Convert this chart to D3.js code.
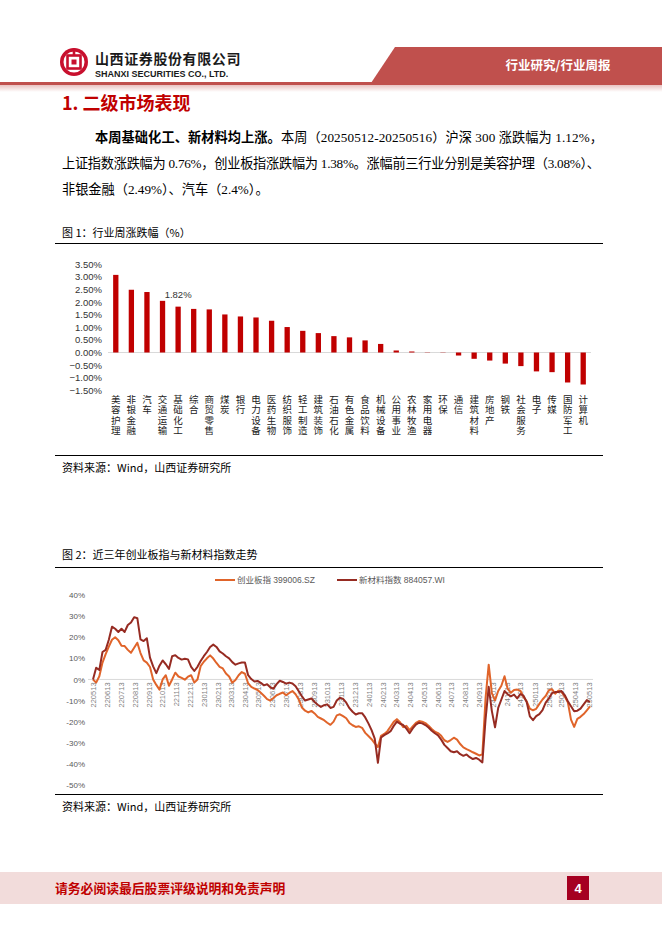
<!DOCTYPE html>
<html><head><meta charset="utf-8">
<script src="https://cdn.jsdelivr.net/npm/d3@7"></script>
<style>html,body{margin:0;padding:0;background:#fff;} svg{display:block}</style>
</head><body>
<svg id="page" width="662" height="936"></svg>
<script>
// ---------- data: figure 1 ----------
const industries = ["美容护理","非银金融","汽车","交通运输","基础化工","综合","商贸零售","煤炭","银行","电力设备","医药生物","纺织服饰","轻工制造","建筑装饰","石油石化","有色金属","食品饮料","机械设备","公用事业","农林牧渔","家用电器","环保","通信","建筑材料","房地产","钢铁","社会服务","电子","传媒","国防军工","计算机"];
const weeklyChange = [3.08,2.49,2.40,2.05,1.82,1.73,1.71,1.51,1.43,1.39,1.26,1.01,0.86,0.77,0.65,0.60,0.48,0.34,0.08,0.04,0.01,-0.01,-0.12,-0.25,-0.32,-0.44,-0.54,-0.75,-0.78,-1.19,-1.27];
const barTicks = [3.5,3,2.5,2,1.5,1,0.5,0,-0.5,-1,-1.5];
const labeledIndustry = "基础化工";

// ---------- data: figure 2 ----------
const seriesNames = ["创业板指 399006.SZ","新材料指数 884057.WI"];
const startDate = "2022-05-13", endDate = "2025-05-16";
const lineTickLabels = ["220513","220613","220713","220813","220913","221013","221113","221213","230113","230213","230313","230413","230513","230613","230713","230813","230913","231013","231113","231213","240113","240213","240313","240413","240513","240613","240713","240813","240913","241013","241113","241213","250113","250213","250313","250413","250513"];
const lineYTicks = [40,30,20,10,0,-10,-20,-30,-40,-50];
// weekly readings (Fridays from 2022-05-13), % change since start
const cybIndex = [0,-1.5,1.5,8,12,15.5,18.8,20,18.6,16,15.8,14,12.6,15,17.4,12.5,9,8,5.9,0,
-2.6,-4.8,0,2,-3,0,3.2,1.4,0.7,-0.1,1.3,2,-1.5,0,6.3,8.4,10,11.4,9.9,7.8,
6,5.2,2.8,1.4,-1.6,-0.3,2,3.5,2.7,-1.8,-3.5,-4.3,-5,-6.3,-7.7,-9.3,-10,-8.8,-7.5,-6.8,
-6.2,-7.5,-6.4,-5.5,-7,-9.5,-13.3,-14.8,-15.6,-14.9,-16.1,-17.7,-18.5,-19.3,-20.5,-21.5,-20,-17,-16.5,-17.4,
-18.4,-20.6,-21.7,-22.5,-22.2,-22.9,-25.3,-26.8,-28.3,-30.3,-32,-26.7,-25.8,-24.5,-22.3,-20.1,-18.8,-20.3,-22.6,-22,
-24,-22.2,-20.6,-19.7,-20,-20.7,-21.9,-23.5,-24.8,-25.4,-26.7,-28.8,-29.6,-28.7,-27.6,-28.5,-30.6,-32.2,-33,-33.7,
-34.5,-35.2,-36,-35.5,-9,7,-6.5,-10,-5.5,-3,1.5,-4.5,-6.3,-5,-4.8,-5.3,-8.3,-10.4,-13.8,-14.6,
-13.9,-11.6,-9.5,-7.8,-5.1,-4.6,-6.8,-5.3,-5.9,-8,-10.8,-19,-22.5,-18.7,-17.7,-16.4,-14.6,-12.8];
const newMaterialIndex = [0,5.5,4.5,13,14,18.8,25,24,22.5,24,22.5,25.8,27,29.5,29,19,18.2,19.5,10.3,6.2,
3,6.5,9,7.2,5,11,11.5,10.2,9.4,9.8,9.5,6,4,6,8.7,11,13,15.4,16.5,15.4,
13.3,12.3,11,10,8.2,7,7.6,8,8,2,0.2,-1,-0.7,-1.6,-2.8,-2.3,-3.7,-4.4,-2.2,-0.6,
-1.2,-2,-1.5,-1.9,-3.2,-5.6,-8,-10,-9.5,-9,-10.7,-12,-13,-12.2,-11.8,-13.5,-13,-10,-8.7,-9.2,
-11,-13.6,-15.3,-16.6,-16,-16,-18,-20.8,-24,-28,-39.5,-27.5,-26.4,-25.6,-24.5,-22,-20,-21,-21.6,-23.3,
-25.5,-23.2,-21.4,-20.5,-20.8,-21.6,-22.8,-24.3,-25.5,-26.5,-28.5,-31,-32.5,-34,-34.5,-34,-35.4,-36.2,-35.5,-36.8,
-37.7,-37.2,-38,-39.3,-19,-3.5,-15,-22.7,-13.5,-9.5,-5.5,-7,-8,-7.2,-9,-6.9,-7.7,-10.7,-17.5,-19.3,
-17.4,-16.4,-14.5,-11,-9,-6.5,-6,-6,-5.5,-7.4,-10.3,-12.7,-15.1,-14.8,-13.8,-11.8,-9.8,-10.7];

// ---------- page ----------
const svg = d3.select("#page");
const CJK = "'Noto Sans CJK SC', sans-serif";
const SERIF = "'Liberation Serif', 'Noto Sans CJK SC', serif";
const SANS = "'Liberation Sans', 'Noto Sans CJK SC', sans-serif";
svg.append("rect").attr("width",662).attr("height",936).attr("fill","#fff");

// header
const defs = svg.append("defs");
const grad = defs.append("linearGradient").attr("id","shade").attr("x1",0).attr("y1",0).attr("x2",0).attr("y2",1);
grad.append("stop").attr("offset","0%").attr("stop-color","#e9c3c2");
grad.append("stop").attr("offset","100%").attr("stop-color","#ffffff");
svg.append("polygon").attr("points","395,47 662,47 662,83 371,83").attr("fill","#c0504d");
svg.append("rect").attr("x",0).attr("y",82).attr("width",662).attr("height",3).attr("fill","#c0504d");
svg.append("rect").attr("x",0).attr("y",85).attr("width",662).attr("height",7).attr("fill","url(#shade)");
svg.append("text").attr("x",558).attr("y",70).attr("text-anchor","middle").attr("fill","#fff")
  .attr("font-family",CJK).attr("font-weight","bold").attr("font-size",12.5).text("行业研究/行业周报");
const logo = svg.append("g").attr("transform","translate(74,62)");
logo.append("circle").attr("r",14).attr("fill","#c8102e");
logo.append("circle").attr("r",10.5).attr("fill","#fff");
logo.append("rect").attr("x",-6.5).attr("y",-6.5).attr("width",13).attr("height",13).attr("fill","none").attr("stroke","#c8102e").attr("stroke-width",2.6);
logo.append("rect").attr("x",-2.5).attr("y",-2.5).attr("width",5).attr("height",5).attr("fill","#c8102e");
logo.append("rect").attr("x",-1.3).attr("y",-14).attr("width",2.6).attr("height",7).attr("fill","#c8102e");
svg.append("text").attr("x",95).attr("y",64).attr("font-family",CJK).attr("font-weight","bold")
  .attr("font-size",14).attr("letter-spacing",0.6).attr("fill","#1a1a1a").text("山西证券股份有限公司");
svg.append("text").attr("x",95).attr("y",77).attr("font-family","'Liberation Sans', Arial, sans-serif").attr("font-weight","bold")
  .attr("font-size",9).attr("fill","#1a1a1a").text("SHANXI SECURITIES CO., LTD.");

// section title
svg.append("text").attr("x",62).attr("y",110).attr("font-family",CJK).attr("font-weight","bold")
  .attr("font-size",18).attr("fill","#c00000").text("1. 二级市场表现");

// paragraph
const p1 = svg.append("text").attr("x",95).attr("y",142).attr("font-family",SERIF).attr("font-size",13.2)
  .attr("fill","#000").attr("textLength",508).attr("lengthAdjust","spacing");
p1.append("tspan").attr("font-weight","bold").attr("font-family",CJK).text("本周基础化工、新材料均上涨。");
p1.append("tspan").text("本周（20250512-20250516）沪深 300 涨跌幅为 1.12%，");
svg.append("text").attr("x",62).attr("y",168).attr("font-family",SERIF).attr("font-size",13.2)
  .attr("fill","#000").attr("textLength",538).attr("lengthAdjust","spacing")
  .text("上证指数涨跌幅为 0.76%，创业板指涨跌幅为 1.38%。涨幅前三行业分别是美容护理（3.08%）、");
svg.append("text").attr("x",62).attr("y",194).attr("font-family",SERIF).attr("font-size",13.2)
  .attr("fill","#000").text("非银金融（2.49%）、汽车（2.4%）。");

// captions & frames
function caption(y, t){ svg.append("text").attr("x",62).attr("y",y).attr("font-family",CJK).attr("font-size",11).attr("fill","#000").text(t); }
function rule(y){ svg.append("line").attr("x1",55).attr("x2",603).attr("y1",y).attr("y2",y).attr("stroke","#000").attr("stroke-width",1); }
caption(237,"图 1：行业周涨跌幅（%）"); rule(243.5); rule(455.5); caption(472,"资料来源：Wind，山西证券研究所");
caption(559,"图 2：近三年创业板指与新材料指数走势"); rule(567.5); rule(794.5); caption(811,"资料来源：Wind，山西证券研究所");

// ---------- figure 1 ----------
const xb = d3.scaleBand().domain(industries).range([108,591]).paddingInner(0.66).paddingOuter(0.33);
const yb = d3.scaleLinear().domain([-1.5,3.5]).range([390.3,264.3]);
const g1 = svg.append("g");
g1.append("line").attr("x1",108).attr("x2",591).attr("y1",yb(0)).attr("y2",yb(0)).attr("stroke","#d9d9d9").attr("stroke-width",1);
g1.selectAll("rect.bar").data(industries).join("rect").attr("class","bar")
  .attr("x",d=>xb(d)).attr("width",xb.bandwidth())
  .attr("y",(d,i)=>yb(Math.max(0,weeklyChange[i])))
  .attr("height",(d,i)=>Math.abs(yb(weeklyChange[i])-yb(0)))
  .attr("fill","#c00000");
const ya1 = g1.append("g").attr("transform","translate(102,0)")
  .call(d3.axisLeft(yb).tickValues(barTicks).tickSize(0).tickPadding(0).tickFormat(d=>d3.format(".2f")(d)+"%"));
ya1.select(".domain").remove();
ya1.selectAll("text").attr("font-family",SANS).attr("font-size",9.5).attr("fill","#333");
// value label
const li = industries.indexOf(labeledIndustry);
g1.append("text").attr("x",xb(labeledIndustry)+xb.bandwidth()/2).attr("y",yb(weeklyChange[li])-9)
  .attr("text-anchor","middle").attr("font-family",SANS).attr("font-size",9.5).attr("fill","#333")
  .text(d3.format(".2f")(weeklyChange[li])+"%");
// vertical (stacked) category labels
g1.selectAll("text.cat").data(industries).join("text").attr("class","cat")
  .attr("x",d=>xb(d)+xb.bandwidth()/2).attr("y",395)
  .style("writing-mode","vertical-rl").attr("text-anchor","start")
  .attr("letter-spacing",0.6)
  .attr("font-family",CJK).attr("font-size",9.5).attr("fill","#222").text(d=>d);

// ---------- figure 2 ----------
const parse = d3.timeParse("%Y-%m-%d");
const t0 = parse(startDate), t1 = parse(endDate);
const weekDates = cybIndex.map((_,i)=>d3.timeDay.offset(t0, 7*i));
const xl = d3.scaleTime().domain([t0,t1]).range([93,590]);
const yl = d3.scaleLinear().domain([-50,40]).range([785,595]);
const g2 = svg.append("g");
g2.append("line").attr("x1",88).attr("x2",593).attr("y1",yl(0)).attr("y2",yl(0)).attr("stroke","#d9d9d9");
const ya2 = g2.append("g").attr("transform","translate(85,0)")
  .call(d3.axisLeft(yl).tickValues(lineYTicks).tickSize(0).tickPadding(0).tickFormat(d=>d+"%"));
ya2.select(".domain").remove();
ya2.selectAll("text").attr("font-family",SANS).attr("font-size",8).attr("fill","#595959");
const tickParse = d3.timeParse("%y%m%d");
const xa2 = g2.append("g").attr("transform",`translate(0,${yl(0)})`)
  .call(d3.axisBottom(xl).tickValues(lineTickLabels.map(tickParse)).tickSize(0).tickFormat(d3.timeFormat("%y%m%d")));
xa2.select(".domain").remove();
xa2.selectAll("text").attr("transform","rotate(-90)").attr("text-anchor","end")
  .attr("x",-3).attr("y",0).attr("dy","0.35em")
  .attr("font-family",SANS).attr("font-size",7.5).attr("fill","#7f7f7f");
const colors = ["#e0642a","#962b22"];
const lineGen = d3.line().x((d,i)=>xl(weekDates[i])).y(d=>yl(d)).curve(d3.curveLinear);
[cybIndex,newMaterialIndex].forEach((s,j)=>{
  g2.append("path").datum(s).attr("d",lineGen).attr("fill","none").attr("stroke",colors[j])
    .attr("stroke-width",2).attr("stroke-linejoin","round");
});
// legend
const legX = [215,337];
seriesNames.forEach((n,j)=>{
  g2.append("line").attr("x1",legX[j]).attr("x2",legX[j]+20).attr("y1",580).attr("y2",580).attr("stroke",colors[j]).attr("stroke-width",2);
  g2.append("text").attr("x",legX[j]+22).attr("y",583).attr("font-family",SANS).attr("font-size",8.5).attr("fill","#595959").text(n);
});

// ---------- footer ----------
svg.append("rect").attr("x",0).attr("y",872).attr("width",662).attr("height",32).attr("fill","#f2dcdb");
svg.append("text").attr("x",55).attr("y",893).attr("font-family",CJK).attr("font-weight","bold").attr("font-size",12.8)
  .attr("fill","#c00000").text("请务必阅读最后股票评级说明和免责声明");
svg.append("rect").attr("x",567).attr("y",876).attr("width",22).attr("height",24).attr("fill","#a50021");
svg.append("text").attr("x",578).attr("y",893).attr("text-anchor","middle").attr("font-family",SANS).attr("font-weight","bold")
  .attr("font-size",13).attr("fill","#fff").text("4");
</script>
</body></html>
